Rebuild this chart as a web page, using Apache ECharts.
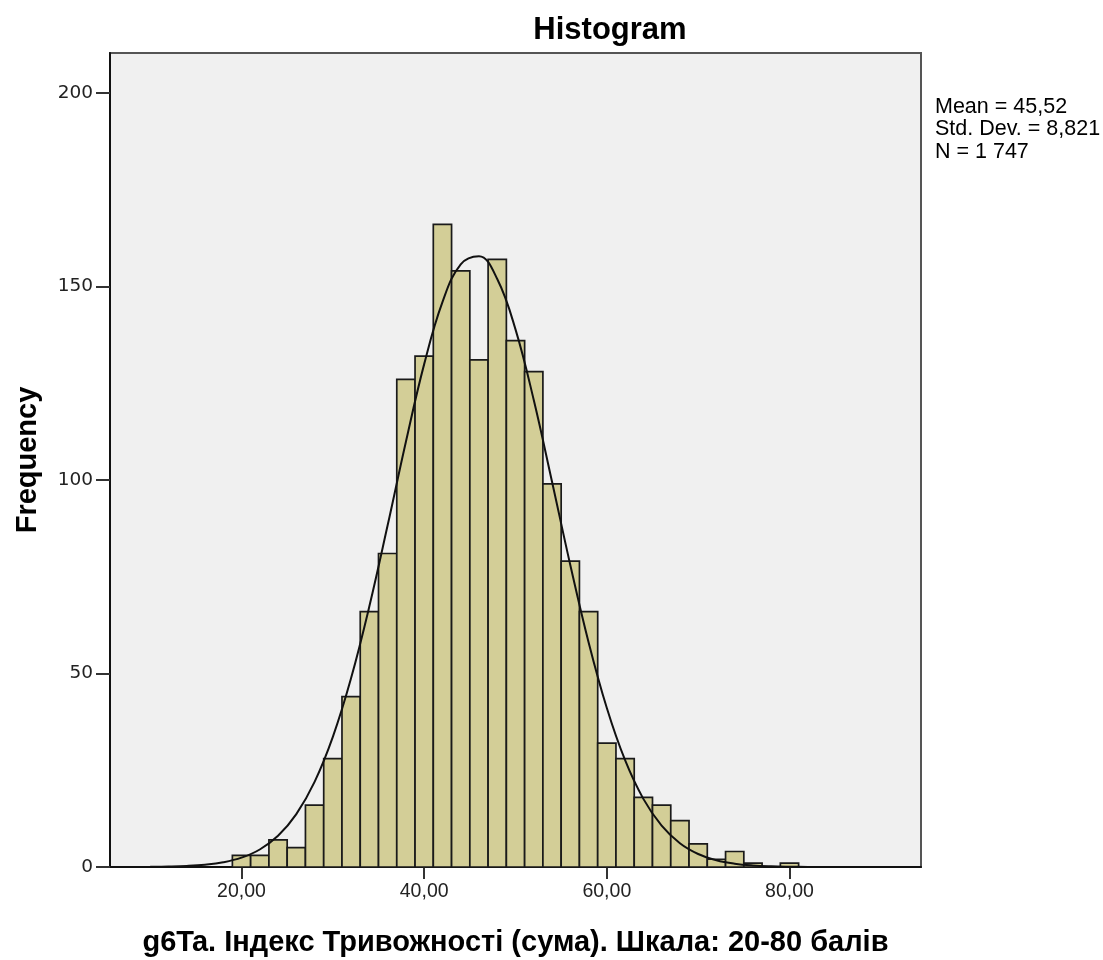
<!DOCTYPE html>
<html>
<head>
<meta charset="utf-8">
<script src="https://cdn.jsdelivr.net/npm/echarts@6/dist/echarts.min.js"></script>
<style>
html,body{margin:0;padding:0;background:#fff;}
#chart{width:1103px;height:960px;}
</style>
</head>
<body>
<div id="chart"></div>
<script>
// Histogram bins (centres, bin width 2) and frequencies
const binCenters = [20,22,24,26,28,30,32,34,36,38,40,42,44,46,48,50,52,54,56,58,60,62,64,66,68,70,72,74,76,78,80];
const binCounts  = [3,3,7,5,16,28,44,66,81,126,132,166,154,131,157,136,128,99,79,66,32,28,18,16,12,6,2,4,1,0,1];
const binWidth = 2;

// Normal curve
const curveX = [5.6,8,10,12,14,16,18,20,22,24,26,28,30,32,34,36,38,40,42,44,46,48,50,52,54,56,58,60,62,64,66,68,70,72,74,76,78,80,82,84,86,88,90,92,94.4];
const curveY = [0.01,0.02,0.05,0.12,0.27,0.59,1.22,2.41,4.52,8.06,13.66,21.99,33.62,48.82,67.36,88.27,109.87,129.92,145.93,155.69,157.79,151.9,138.9,120.65,99.54,78.03,58.09,41.08,27.59,17.6,10.67,6.14,3.36,1.75,0.86,0.4,0.18,0.08,0.03,0.01,0,0,0,0,0];

const xTicks = [20,40,60,80];
const yTicks = [0,50,100,150,200];
const statsLines = ['Mean = 45,52','Std. Dev. = 8,821','N = 1 747'];

const chart = echarts.init(document.getElementById('chart'), null, {renderer:'canvas'});

const barData = binCenters.map((c,i)=>[c, binCounts[i]]);
const curveData = curveX.map((x,i)=>[x, curveY[i]]);

const option = {
  animation:false,
  backgroundColor:'#ffffff',
  title:{
    text:'Histogram',
    left:605, top:10, textAlign:'center',
    textStyle:{fontFamily:'Liberation Sans, Arial, sans-serif', fontWeight:'bold', fontSize:31, color:'#000'}
  },
  grid:{
    left:110, top:53, right:182, bottom:93,
    show:true, backgroundColor:'#F0F0F0', borderColor:'#555', borderWidth:2,
    containLabel:false, outerBoundsMode:'none'
  },
  xAxis:{
    type:'value', min:5.6, max:94.4,
    name:'g6Ta. Індекс Тривожності (сума). Шкала: 20-80 балів',
    nameLocation:'middle', nameGap:61,
    nameTextStyle:{fontFamily:'Liberation Sans, Arial, sans-serif', fontWeight:'bold', fontSize:29, color:'#000'},
    axisLine:{show:true, onZero:false, lineStyle:{color:'#111', width:2}},
    axisTick:{show:true, length:12, customValues:xTicks, lineStyle:{color:'#333', width:2}},
    axisLabel:{show:true, customValues:xTicks, margin:15, fontFamily:'Liberation Sans, Arial, sans-serif', fontSize:19.5, color:'#222',
      formatter:v=>v.toFixed(2).replace('.',',')},
    splitLine:{show:false}
  },
  yAxis:{
    type:'value', min:0, max:210.3,
    name:'Frequency', nameLocation:'middle', nameGap:68, nameRotate:90,
    nameTextStyle:{fontFamily:'Liberation Sans, Arial, sans-serif', fontWeight:'bold', fontSize:29, color:'#000'},
    axisLine:{show:true, lineStyle:{color:'#111', width:2}},
    axisTick:{show:true, length:14, customValues:yTicks, lineStyle:{color:'#333', width:2}},
    axisLabel:{show:true, customValues:yTicks, margin:17, fontFamily:'DejaVu Sans, sans-serif', fontSize:18.5, color:'#222'},
    splitLine:{show:false}
  },
  graphic: statsLines.map((t,i)=>({
    type:'text', left:935, top:96+i*22.5,
    style:{text:t, font:'21.5px "Liberation Sans", Arial, sans-serif', fill:'#000'}
  })),
  series:[
    {
      type:'custom',
      data:barData,
      renderItem:function(params, api){
        const c = api.value(0), v = api.value(1);
        if(!v) return null;
        const p0 = api.coord([c - binWidth/2, v]);
        const p1 = api.coord([c + binWidth/2, 0]);
        return {
          type:'rect',
          shape:{x:p0[0], y:p0[1], width:p1[0]-p0[0], height:p1[1]-p0[1]},
          style:{fill:'#D3CE97', stroke:'#1a1a1a', lineWidth:1.7}
        };
      },
      z:2
    },
    {
      type:'line',
      data:curveData,
      smooth:0.4,
      showSymbol:false,
      symbol:'none',
      lineStyle:{color:'#111', width:2},
      z:3
    }
  ]
};
chart.setOption(option);
</script>
</body>
</html>
